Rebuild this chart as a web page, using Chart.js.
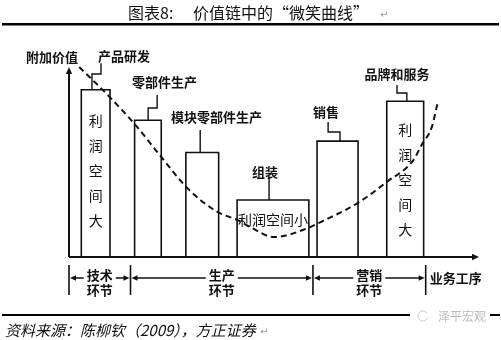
<!DOCTYPE html>
<html>
<head>
<meta charset="utf-8">
<script src="https://cdn.jsdelivr.net/npm/chart.js@4.4.1/dist/chart.umd.min.js"></script>
<style>
  html, body { margin: 0; padding: 0; background: #fff; }
  #wrap { width: 501px; height: 340px; }
</style>
</head>
<body>
<div id="wrap"><canvas id="smile"></canvas></div>
<script>
// 价值链各环节：柱体的起止位置（横轴单位）与附加价值高度
const stages = ['产品研发', '零部件生产', '模块零部件生产', '组装', '销售', '品牌和服务'];
const barStart = [3, 16, 28.5, 41, 60.5, 77.5];
const barEnd = [10, 22.5, 36.5, 58.5, 70.5, 86.5];
const barValue = [88, 72, 55, 30, 61, 82];

// 微笑曲线
const curveX = [2.5, 10, 16, 22, 29, 36, 41, 44, 50, 58, 61, 70.5, 77.5, 84, 86, 88.5, 90];
const curveY = [100, 84, 70, 54, 36, 24, 19.5, 16, 10.5, 15, 18, 28.5, 39.5, 51, 59, 68.5, 82];

// 底部的环节划分
const phaseBounds = [0, 15, 59.5, 87];
const phaseNames = [['技术', '环节'], ['生产', '环节'], ['营销', '环节']];

const CJK = '"Noto Sans CJK SC", "Noto Sans", sans-serif';

// 标注文字和引线（数据坐标）
const callouts = [
  { at: [13.4, 105.8], path: [[7.8, 102], [7.8, 96.3], [5.6, 96.3]] },
  { at: [23.3, 92.1], path: [[21.5, 85.3], [21.5, 78.4], [19.3, 78.4]] },
  { at: [36, 73.7], path: [[32, 66.8]] },
  { at: [47.8, 44.7], path: [[48.8, 41.6]] },
  { at: [62.7, 76.3], path: [[63.2, 71], [63.2, 65.8], [66.1, 65.8]] },
  { at: [80, 96.3], path: [[80, 90.5], [80, 86.3], [82.4, 86.3]] }
];

// 柱内文字
const barNotes = [
  { bar: 0, text: '利润空间大', vertical: true, y: 72 },
  { bar: 3, text: '利润空间小', vertical: false, y: 19.5 },
  { bar: 5, text: '利润空间大', vertical: true, y: 67 }
];

const barSets = stages.map((name, i) => ({
  label: name,
  data: [
    { x: barStart[i], y: 0 },
    { x: barStart[i], y: barValue[i] },
    { x: barEnd[i], y: barValue[i] },
    { x: barEnd[i], y: 0 }
  ],
  borderColor: '#111',
  borderWidth: 1.6,
  pointRadius: 0,
  tension: 0,
  fill: false,
  clip: false
}));

const curveSet = {
  label: '微笑曲线',
  data: curveX.map((x, i) => ({ x: x, y: curveY[i] })),
  borderColor: '#111',
  borderWidth: 2,
  borderDash: [6, 4],
  pointRadius: 0,
  cubicInterpolationMode: 'monotone',
  fill: false,
  clip: false
};

function arrowHead(ctx, x, y, dir, size) {
  ctx.beginPath();
  if (dir === 'right') {
    ctx.moveTo(x, y); ctx.lineTo(x - size, y - size / 2.2); ctx.lineTo(x - size, y + size / 2.2);
  } else if (dir === 'left') {
    ctx.moveTo(x, y); ctx.lineTo(x + size, y - size / 2.2); ctx.lineTo(x + size, y + size / 2.2);
  } else {
    ctx.moveTo(x, y); ctx.lineTo(x - size / 2.2, y + size); ctx.lineTo(x + size / 2.2, y + size);
  }
  ctx.closePath();
  ctx.fill();
}

const smileDecor = {
  id: 'smileDecor',
  beforeDraw(chart) {
    const ctx = chart.ctx;
    ctx.save();
    ctx.fillStyle = '#fff';
    ctx.fillRect(0, 0, chart.width, chart.height);
    ctx.restore();
  },
  afterDatasetsDraw(chart) {
    const ctx = chart.ctx;
    const xs = chart.scales.x, ys = chart.scales.y;
    const px = v => xs.getPixelForValue(v);
    const py = v => ys.getPixelForValue(v);
    const { left, right, top, bottom } = chart.chartArea;
    ctx.save();
    ctx.strokeStyle = '#111';
    ctx.fillStyle = '#111';

    // 坐标轴
    ctx.lineWidth = 2;
    ctx.beginPath();
    ctx.moveTo(left, bottom);
    ctx.lineTo(left, top + 4);
    ctx.moveTo(left, bottom);
    ctx.lineTo(right - 4, bottom);
    ctx.stroke();
    arrowHead(ctx, left, top, 'up', 7);
    arrowHead(ctx, right, bottom, 'right', 7);

    ctx.font = 'bold 13px ' + CJK;
    ctx.textAlign = 'center';
    ctx.textBaseline = 'middle';
    ctx.fillText('附加价值', left - 17, top - 10);

    // 标注与引线
    ctx.lineWidth = 1.4;
    callouts.forEach((c, i) => {
      ctx.fillText(stages[i], px(c.at[0]), py(c.at[1]));
      const pts = c.path.concat([[c.path[c.path.length - 1][0], barValue[i]]]);
      ctx.beginPath();
      pts.forEach((p, k) => {
        if (k === 0) ctx.moveTo(px(p[0]), py(p[1]));
        else ctx.lineTo(px(p[0]), py(p[1]));
      });
      ctx.stroke();
    });

    // 柱内文字
    ctx.font = '14px ' + CJK;
    barNotes.forEach(n => {
      const cx = px((barStart[n.bar] + barEnd[n.bar]) / 2);
      if (n.vertical) {
        [...n.text].forEach((ch, k) => ctx.fillText(ch, cx, py(n.y) + k * 25));
      } else {
        ctx.fillText(n.text, cx, py(n.y));
      }
    });

    // 底部环节划分
    ctx.lineWidth = 1.6;
    phaseBounds.forEach(b => {
      ctx.beginPath();
      ctx.moveTo(px(b), bottom + 8);
      ctx.lineTo(px(b), bottom + 38);
      ctx.stroke();
    });
    ctx.font = 'bold 13px ' + CJK;
    ctx.lineWidth = 1.3;
    const ay = bottom + 21;
    phaseNames.forEach((lines, i) => {
      const a = px(phaseBounds[i]) + 1, b = px(phaseBounds[i + 1]) - 1;
      const cx = (a + b) / 2;
      ctx.fillText(lines[0], cx, bottom + 18);
      ctx.fillText(lines[1], cx, bottom + 33);
      const half = 16;
      ctx.beginPath();
      ctx.moveTo(cx - half, ay); ctx.lineTo(a + 4, ay);
      ctx.moveTo(cx + half, ay); ctx.lineTo(b - 4, ay);
      ctx.stroke();
      arrowHead(ctx, a, ay, 'left', 6);
      arrowHead(ctx, b, ay, 'right', 6);
    });
    ctx.textAlign = 'left';
    ctx.fillText('业务工序', px(phaseBounds[3]) + 4, ay);
    ctx.restore();
  },
  afterDraw(chart) {
    const ctx = chart.ctx;
    ctx.save();
    ctx.fillStyle = '#111';
    ctx.textBaseline = 'middle';
    ctx.textAlign = 'left';

    // 标题
    ctx.font = '16px ' + CJK;
    ctx.fillText('图表8:', 128, 13);
    ctx.fillText('价值链中的“微笑曲线”', 193, 13);
    ctx.fillStyle = '#999';
    ctx.font = '10px "DejaVu Sans"';
    ctx.fillText('↵', 380, 15);

    ctx.fillStyle = '#000';
    ctx.fillRect(2, 23, 497, 2.5);

    // 资料来源
    ctx.fillRect(2, 314, 408, 2);
    ctx.fillRect(490, 314, 10, 2);
    ctx.fillStyle = '#bbb';
    ctx.font = '12px ' + CJK;
    ctx.fillText('泽平宏观', 438, 316);
    ctx.strokeStyle = '#ccc';
    ctx.lineWidth = 1;
    ctx.beginPath();
    ctx.arc(423, 316, 5, 0.3, Math.PI * 1.8);
    ctx.stroke();

    ctx.fillStyle = '#111';
    ctx.font = 'italic 15px ' + CJK;
    ctx.fillText('资料来源：陈柳钦（2009），方正证券', 5, 330);
    ctx.fillStyle = '#999';
    ctx.font = '10px "DejaVu Sans"';
    ctx.fillText('↵', 260, 332);
    ctx.restore();
  }
};

new Chart(document.getElementById('smile'), {
  type: 'line',
  data: { datasets: barSets.concat([curveSet]) },
  options: {
    responsive: true,
    maintainAspectRatio: false,
    devicePixelRatio: 1,
    animation: false,
    layout: { padding: { left: 69, right: 22, top: 67, bottom: 83 } },
    plugins: { legend: { display: false }, tooltip: { enabled: false } },
    scales: {
      x: { type: 'linear', min: 0, max: 100, display: false },
      y: { type: 'linear', min: 0, max: 100, display: false }
    }
  },
  plugins: [smileDecor]
});
</script>
</body>
</html>
